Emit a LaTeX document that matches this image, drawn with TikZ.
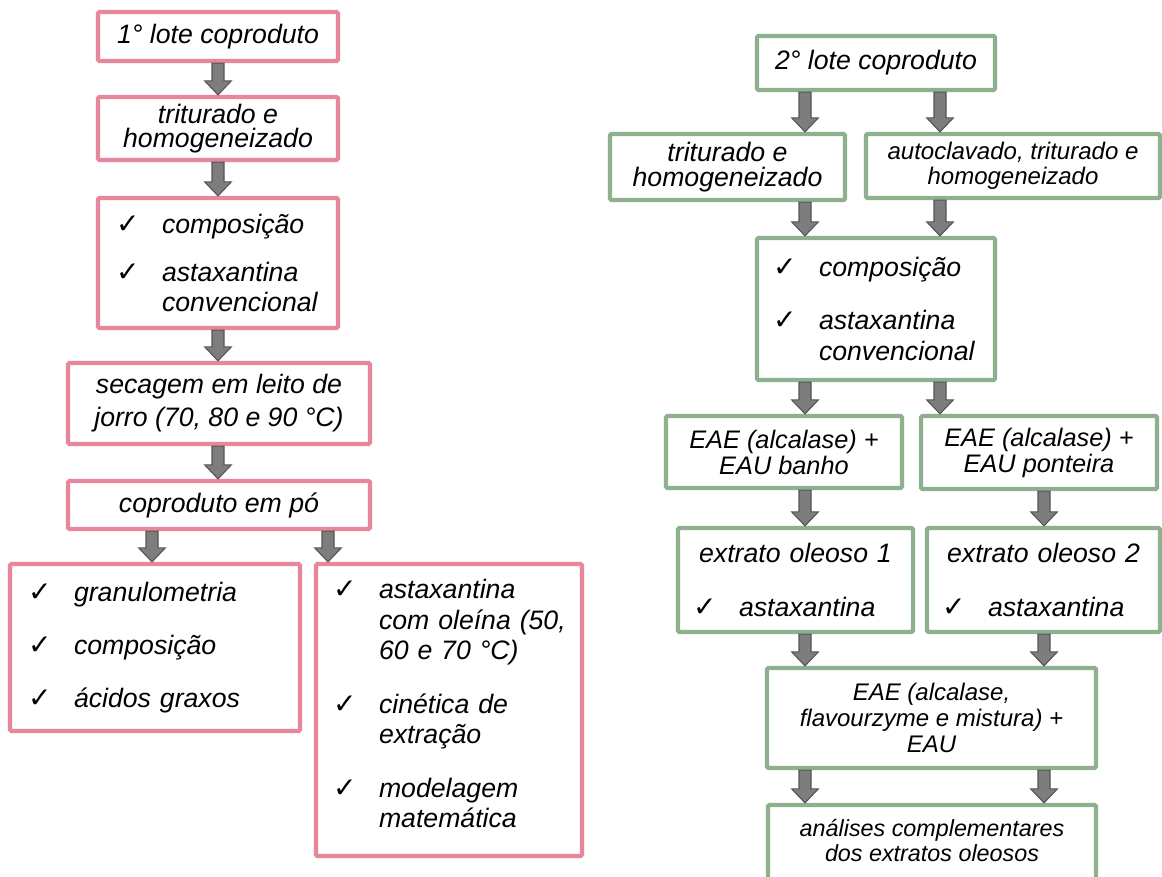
\documentclass[tikz,border=0pt]{standalone}
\usepackage{fontspec}
\setmainfont{Liberation Sans}
\newfontfamily\symf{DejaVu Sans}
\usetikzlibrary{calc}
\definecolor{pinkc}{RGB}{232,135,155}
\definecolor{greenc}{RGB}{143,176,143}
\definecolor{arrfill}{RGB}{125,125,125}
\definecolor{arrline}{RGB}{85,85,85}
\newcommand\ck{\makebox[34.5pt][l]{\upshape\symf\fontsize{21}{21}\selectfont ✓}}
\newcommand\ind{\hspace*{34.5pt}}
\tikzset{
  box/.style={draw, line width=3.2pt, fill=white, rounded corners=1pt, inner sep=0pt,
    font=\itshape\fontsize{20}{18.5}\selectfont, align=center},
  pk/.style={box, draw=pinkc},
  gr/.style={box, draw=greenc},
  lst/.style={align=left, font=\itshape\fontsize{20}{23}\selectfont},
  barrow/.style={fill=arrfill, draw=arrline, line width=0.8pt, line join=miter,
    to path={let \p1=(\tikztostart), \p2=(\tikztotarget) in
      (\x1-4.5pt,\y1) -- (\x1+4.5pt,\y1) -- (\x1+4.5pt,\y2+10.5pt) -- (\x1+10pt,\y2+10.5pt)
      -- (\x1,\y2) -- (\x1-10pt,\y2+10.5pt) -- (\x1-4.5pt,\y2+10.5pt) -- cycle}},
}
\begin{document}
\begin{tikzpicture}[x=0.75pt,y=-0.75pt]
\clip (0,0) rectangle (1162,876);
\fill[white] (0,0) rectangle (1162,876);
% arrow axes
\coordinate (ca) at (218,0);
\coordinate (cb) at (152,0);
\coordinate (cc) at (328,0);
\coordinate (cd) at (805,0);
\coordinate (ce) at (940,0);
\coordinate (cf) at (1044,0);
% left column
\node[pk, minimum width=180pt, minimum height=36.75pt] (L1) at (218,36.5) {1° lote coproduto};
\node[pk, minimum width=180pt, minimum height=47.25pt] (L2) at (218,128.5) {triturado e\\homogeneizado};
\node[pk, lst, text width=153pt, inner xsep=13.5pt, minimum height=97.5pt, font=\itshape\fontsize{20}{22}\selectfont] (L3) at (218,263)
  {\ck composição\\[14pt]\ck astaxantina\\\ind convencional};
\node[pk, minimum width=226.5pt, minimum height=60.75pt, font=\itshape\fontsize{20}{24.75}\selectfont] (L4) at (219,403.5)
  {secagem em leito de\\jorro (70, 80 e 90 °C)};
\node[pk, minimum width=226.5pt, minimum height=36pt] (L5) at (219,505) {coproduto em pó};
\node[pk, lst, text width=190.5pt, inner xsep=13.5pt, minimum height=125.25pt] (L6) at (155,647.5)
  {\ck granulometria\\[17pt]\ck composição\\[17pt]\ck ácidos graxos};
\node[pk, lst, text width=174pt, inner xsep=12.75pt, minimum height=219pt] (L7) at (449,710)
  {\ck astaxantina\\\mbox{\ind com oleína (50,}\\\ind 60 e 70 °C)\\[17pt]\ck cinética de\\\ind extração\\[17pt]\ck modelagem\\\ind matemática\\[-13pt]\mbox{}};
% right column
\node[gr, minimum width=178.5pt, minimum height=40.5pt] (R1) at (876,63) {2° lote coproduto};
\node[gr, minimum width=176.25pt, minimum height=49.5pt] (R2a) at (727.5,167) {triturado e\\homogeneizado};
\node[gr, minimum width=220.5pt, minimum height=48pt, font=\itshape\fontsize{18}{18.5}\selectfont] (R2b) at (1013,166)
  {autoclavado, triturado e\\homogeneizado};
\node[gr, lst, text width=154.5pt, inner xsep=12pt, minimum height=106.5pt] (R3) at (876,309)
  {\ck composição\\[17pt]\ck astaxantina\\\ind convencional};
\node[gr, minimum width=177pt, minimum height=54pt, font=\itshape\fontsize{19}{19.5}\selectfont] (R4a) at (784,452)
  {EAE (alcalase) +\\EAU banho};
\node[gr, minimum width=177pt, minimum height=54.75pt, font=\itshape\fontsize{19}{19.5}\selectfont] (R4b) at (1039,452.5)
  {EAE (alcalase) +\\EAU ponteira};
\node[gr, lst, text width=153.75pt, inner xsep=11.25pt, minimum height=78pt] (R5a) at (795.5,580)
  {\makebox[\linewidth]{extrato oleoso 1}\\[17pt]\ck astaxantina};
\node[gr, lst, text width=152.25pt, inner xsep=11.25pt, minimum height=78pt] (R5b) at (1043.5,580)
  {\makebox[\linewidth]{extrato oleoso 2}\\[17pt]\ck astaxantina};
\node[gr, minimum width=246.75pt, minimum height=75pt, font=\itshape\fontsize{18}{19.5}\selectfont] (R6) at (931.5,718)
  {EAE (alcalase,\\flavourzyme e mistura) +\\EAU};
\node[gr, minimum width=246pt, minimum height=63.75pt, font=\itshape\fontsize{17.5}{18.75}\selectfont] (R7) at (932,847.5)
  {análises complementares\\dos extratos oleosos\\[-7.5pt]\mbox{}};
% arrows
\draw[barrow] (L1.south -| ca) to (L2.north -| ca);
\draw[barrow] (L2.south -| ca) to (L3.north -| ca);
\draw[barrow] (L3.south -| ca) to (L4.north -| ca);
\draw[barrow] (L4.south -| ca) to (L5.north -| ca);
\draw[barrow] (L5.south -| cb) to (L6.north -| cb);
\draw[barrow] (L5.south -| cc) to (L7.north -| cc);
\draw[barrow] (R1.south -| cd) to (R2a.north -| cd);
\draw[barrow] (R1.south -| ce) to (R2b.north -| ce);
\draw[barrow] (R2a.south -| cd) to (R3.north -| cd);
\draw[barrow] (R2b.south -| ce) to (R3.north -| ce);
\draw[barrow] (R3.south -| cd) to (R4a.north -| cd);
\draw[barrow] (R3.south -| ce) to (R4b.north -| ce);
\draw[barrow] (R4a.south -| cd) to (R5a.north -| cd);
\draw[barrow] (R4b.south -| cf) to (R5b.north -| cf);
\draw[barrow] (R5a.south -| cd) to (R6.north -| cd);
\draw[barrow] (R5b.south -| cf) to (R6.north -| cf);
\draw[barrow] (R6.south -| cd) to (R7.north -| cd);
\draw[barrow] (R6.south -| cf) to (R7.north -| cf);
\end{tikzpicture}
\end{document}
